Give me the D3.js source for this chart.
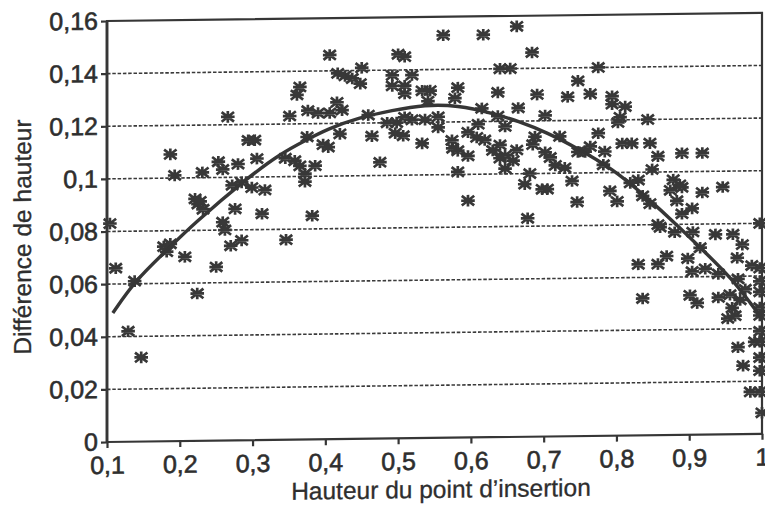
<!DOCTYPE html>
<html>
<head>
<meta charset="utf-8">
<script src="https://cdn.jsdelivr.net/npm/d3@7"></script>
<style>
  body { margin: 0; background: #fff; }
  text { font-family: "Liberation Sans", Arial, sans-serif; fill: #2e2e2e; }
</style>
</head>
<body>
<div id="chart"></div>
<script>
// axis ticks
const xTicks = [0.1, 0.2, 0.3, 0.4, 0.5, 0.6, 0.7, 0.8, 0.9, 1];
const yTicks = [0, 0.02, 0.04, 0.06, 0.08, 0.1, 0.12, 0.14, 0.16];
const gridValues = [0.02, 0.04, 0.06, 0.08, 0.1, 0.12, 0.14];

// [hauteur du point d'insertion, différence de hauteur]
const measurements = [
  [0.104, 0.083], [0.112, 0.066], [0.129, 0.042], [0.138, 0.061], [0.147, 0.032],
  [0.178, 0.074], [0.182, 0.072], [0.187, 0.075], [0.187, 0.109], [0.193, 0.101],
  [0.207, 0.070], [0.224, 0.056], [0.221, 0.092], [0.225, 0.090], [0.232, 0.088],
  [0.228, 0.091], [0.231, 0.102], [0.250, 0.066], [0.253, 0.106], [0.259, 0.103],
  [0.259, 0.083], [0.262, 0.080], [0.270, 0.074], [0.285, 0.076], [0.266, 0.123],
  [0.272, 0.097], [0.276, 0.088], [0.280, 0.105], [0.285, 0.098], [0.294, 0.114],
  [0.303, 0.114], [0.299, 0.096], [0.306, 0.107], [0.313, 0.086], [0.317, 0.095],
  [0.346, 0.076], [0.345, 0.107], [0.358, 0.106], [0.365, 0.104], [0.351, 0.123],
  [0.361, 0.131], [0.365, 0.134], [0.376, 0.125], [0.390, 0.124], [0.372, 0.101],
  [0.372, 0.098], [0.386, 0.104], [0.375, 0.115], [0.397, 0.112], [0.382, 0.085],
  [0.406, 0.146], [0.417, 0.139], [0.427, 0.138], [0.437, 0.137], [0.448, 0.135],
  [0.450, 0.141], [0.416, 0.128], [0.406, 0.124], [0.423, 0.125], [0.420, 0.116],
  [0.404, 0.111], [0.464, 0.115], [0.475, 0.105], [0.459, 0.123], [0.485, 0.120],
  [0.492, 0.138], [0.492, 0.134], [0.500, 0.146], [0.509, 0.145], [0.509, 0.134],
  [0.509, 0.131], [0.519, 0.138], [0.498, 0.120], [0.509, 0.122], [0.519, 0.121],
  [0.496, 0.116], [0.507, 0.115], [0.533, 0.132], [0.544, 0.132], [0.537, 0.121],
  [0.555, 0.122], [0.555, 0.118], [0.541, 0.128], [0.533, 0.112], [0.562, 0.153],
  [0.578, 0.129], [0.574, 0.113], [0.575, 0.110], [0.582, 0.109], [0.596, 0.107],
  [0.582, 0.133], [0.582, 0.101], [0.596, 0.090], [0.608, 0.114], [0.596, 0.116],
  [0.619, 0.113], [0.610, 0.119], [0.615, 0.125], [0.617, 0.153], [0.637, 0.131],
  [0.637, 0.122], [0.647, 0.118], [0.640, 0.140], [0.654, 0.140], [0.630, 0.109],
  [0.640, 0.111], [0.647, 0.107], [0.640, 0.106], [0.647, 0.102], [0.658, 0.105],
  [0.663, 0.109], [0.663, 0.156], [0.665, 0.125], [0.684, 0.146], [0.691, 0.130],
  [0.685, 0.111], [0.688, 0.114], [0.702, 0.122], [0.702, 0.108], [0.681, 0.100],
  [0.674, 0.096], [0.698, 0.094], [0.678, 0.083], [0.705, 0.094], [0.709, 0.106],
  [0.716, 0.103], [0.722, 0.114], [0.729, 0.102], [0.733, 0.129], [0.739, 0.097],
  [0.746, 0.089], [0.747, 0.135], [0.747, 0.108], [0.757, 0.108], [0.764, 0.110],
  [0.764, 0.130], [0.775, 0.140], [0.775, 0.115], [0.782, 0.103], [0.784, 0.108],
  [0.791, 0.093], [0.794, 0.129], [0.794, 0.126], [0.801, 0.089], [0.805, 0.121],
  [0.802, 0.119], [0.812, 0.125], [0.808, 0.111], [0.821, 0.111], [0.830, 0.097],
  [0.819, 0.096], [0.836, 0.091], [0.846, 0.088], [0.843, 0.120], [0.846, 0.111],
  [0.849, 0.101], [0.857, 0.106], [0.857, 0.080], [0.830, 0.065], [0.857, 0.065],
  [0.869, 0.068], [0.836, 0.052], [0.878, 0.097], [0.887, 0.095], [0.874, 0.093],
  [0.890, 0.094], [0.883, 0.089], [0.890, 0.084], [0.904, 0.086], [0.918, 0.092],
  [0.890, 0.107], [0.918, 0.107], [0.946, 0.094], [0.860, 0.079], [0.880, 0.077],
  [0.905, 0.077], [0.936, 0.076], [0.960, 0.076], [0.973, 0.072], [0.915, 0.071],
  [0.898, 0.067], [0.904, 0.062], [0.922, 0.063], [0.940, 0.061], [0.966, 0.067],
  [0.986, 0.064], [0.967, 0.059], [0.977, 0.055], [0.901, 0.053], [0.911, 0.050],
  [0.940, 0.052], [0.956, 0.053], [0.970, 0.051], [0.959, 0.048], [0.963, 0.045],
  [0.953, 0.044], [0.967, 0.033], [0.974, 0.026], [0.984, 0.016], [0.990, 0.035],
  [0.997, 0.080], [0.997, 0.063], [0.997, 0.054], [0.997, 0.045], [0.997, 0.035],
  [0.997, 0.024], [0.997, 0.016], [1.000, 0.008], [0.997, 0.058], [0.997, 0.048],
  [0.997, 0.039], [0.997, 0.029]
];

// fitted trend curve
const fitX = [0.108, 0.138, 0.180, 0.217, 0.294, 0.340, 0.372, 0.404, 0.445, 0.492, 0.537,
  0.582, 0.629, 0.665, 0.705, 0.747, 0.794, 0.839, 0.885, 0.922, 0.959, 0.986, 1.0];
const fitY = [0.049, 0.061, 0.072, 0.082, 0.100, 0.109, 0.1136, 0.118, 0.122, 0.1247, 0.1267,
  0.1263, 0.1232, 0.120, 0.1155, 0.1093, 0.1016, 0.0911, 0.0793, 0.0692, 0.059, 0.049, 0.044];

const width = 765, height = 508;
const margin = { left: 107, right: 3, top: 21, bottom: 66 };
const ink = "#363636";
const skew = 0.0125; // the scan is slightly tilted

const svg = d3.select("#chart").append("svg")
  .attr("width", width)
  .attr("height", height);

const chart = svg.append("g")
  .attr("transform", `matrix(1, ${-skew}, 0, 1, 0, ${skew * margin.left})`);

const x = d3.scaleLinear().domain([0.1, 1]).range([margin.left, width - margin.right]);
const y = d3.scaleLinear().domain([0, 0.16]).range([height - margin.bottom, margin.top]);

const fr = d3.formatLocale({ decimal: ",", thousands: " ", grouping: [3], currency: ["", "€"] });
const fmt = fr.format("~g");

// dotted grid
chart.append("g")
  .selectAll("line")
  .data(gridValues)
  .join("line")
  .attr("x1", x(0.1))
  .attr("x2", x(1))
  .attr("y1", d => y(d))
  .attr("y2", d => y(d))
  .attr("stroke", "#3a3a3a")
  .attr("stroke-width", 1.6)
  .attr("stroke-dasharray", "3.5,1.8");

// frame
chart.append("rect")
  .attr("x", x(0.1))
  .attr("y", y(0.16))
  .attr("width", x(1) - x(0.1))
  .attr("height", y(0) - y(0.16))
  .attr("fill", "none")
  .attr("stroke", ink)
  .attr("stroke-width", 2.2);

chart.append("line")
  .attr("x1", x(0.1)).attr("x2", x(0.1))
  .attr("y1", y(0.16)).attr("y2", y(0))
  .attr("stroke", ink)
  .attr("stroke-width", 2.8);

// axes
const yAxis = chart.append("g")
  .attr("transform", `translate(${x(0.1)},0)`)
  .call(d3.axisLeft(y).tickValues(yTicks).tickFormat(fmt).tickSize(6).tickPadding(3));

const xAxis = chart.append("g")
  .attr("transform", `translate(0,${y(0)})`)
  .call(d3.axisBottom(x).tickValues(xTicks).tickFormat(fmt).tickSize(6).tickPadding(8));

[yAxis, xAxis].forEach(a => {
  a.select(".domain").remove();
  a.selectAll(".tick line").attr("stroke", ink).attr("stroke-width", 2.2);
  a.selectAll(".tick text")
    .attr("fill", "#2e2e2e")
    .attr("stroke", "#2e2e2e")
    .attr("stroke-width", 0.6)
    .style("font-size", "25px")
    .style("font-family", '"Liberation Sans", Arial, sans-serif');
});
yAxis.selectAll(".tick text").attr("dy", "0.32em");

// points
const star = "M-6.2,-4.8L6.2,4.8M-6.2,4.8L6.2,-4.8M0,-5.8L0,5.8M-6.8,0L6.8,0";
chart.append("g")
  .selectAll("path")
  .data(measurements)
  .join("path")
  .attr("d", star)
  .attr("transform", d => `translate(${x(d[0])},${y(d[1])})`)
  .attr("stroke", "#383838")
  .attr("stroke-width", 2.7)
  .attr("fill", "none");

// trend curve
const line = d3.line()
  .x(i => x(fitX[i]))
  .y(i => y(fitY[i]))
  .curve(d3.curveBasis);

chart.append("path")
  .attr("d", line(d3.range(fitX.length)))
  .attr("fill", "none")
  .attr("stroke", ink)
  .attr("stroke-width", 3.4);

// titles
chart.append("text")
  .attr("x", 441)
  .attr("y", 502)
  .attr("text-anchor", "middle")
  .attr("stroke", "#2e2e2e")
  .attr("stroke-width", 0.3)
  .style("font-size", "24.5px")
  .text("Hauteur du point d’insertion");

chart.append("text")
  .attr("transform", "translate(31,236) rotate(-90)")
  .attr("text-anchor", "middle")
  .attr("stroke", "#2e2e2e")
  .attr("stroke-width", 0.3)
  .style("font-size", "24.5px")
  .text("Différence de hauteur");
</script>
</body>
</html>
